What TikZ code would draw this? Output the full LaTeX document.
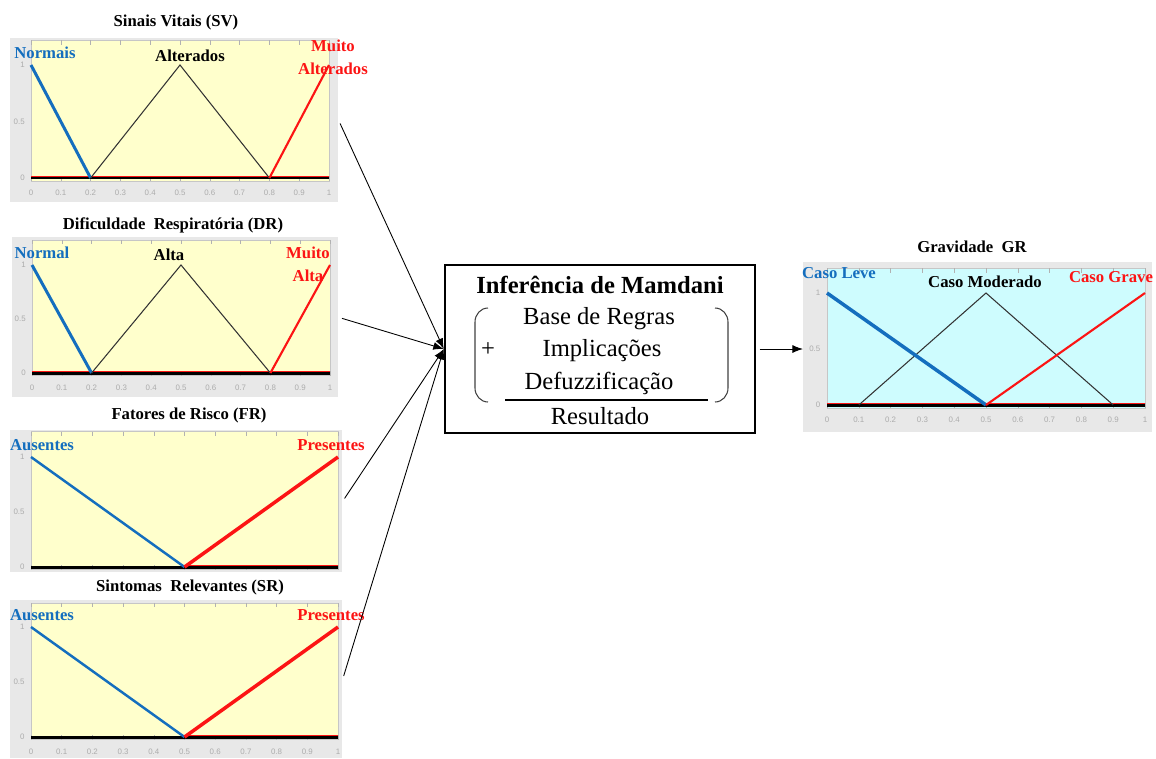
\documentclass[tikz,border=0pt]{standalone}
\usepackage{fontspec}
\setmainfont{Liberation Serif}
\newfontfamily\tickfont{Liberation Sans}
\usetikzlibrary{arrows.meta}
\usetikzlibrary{positioning}

\definecolor{mfblue}{RGB}{20,110,190}
\definecolor{mfred}{RGB}{252,20,20}
\definecolor{mfyellow}{RGB}{255,255,204}
\definecolor{mfcyan}{RGB}{206,252,254}
\definecolor{mfgrey}{RGB}{232,232,232}

\tikzset{
  frame/.style={fill=mfgrey, inner sep=0pt, anchor=north west},
  plotat/.style n args={4}{shift={(#1,#2)}, x={(#3*0.02cm,0)}, y={(0,#4*0.02cm)}},
  paneltitle/.style={font=\bfseries\fontsize{9.5}{11}\selectfont, inner sep=0pt},
  mflabel/.style={font=\bfseries\fontsize{9.5}{13}\selectfont, inner sep=0pt, align=center},
  ticklabel/.style={font=\tickfont\fontsize{4.5}{5}\selectfont, text=gray!65, inner sep=0pt},
  mamdani/.style={draw, line width=1.4pt, inner sep=0pt},
  boxtitle/.style={font=\bfseries\fontsize{14}{16}\selectfont, inner sep=0pt},
  boxtext/.style={font=\fontsize{14}{16}\selectfont, inner sep=0pt},
  link/.style={-{Latex[length=6pt,width=4.5pt]}, line width=0.5pt, shorten <=2pt},
  basered/.style={mfred, line width=0.6pt},
  baseblack/.style={black, line width=1.7pt},
  midtri/.style={black!80, line width=0.6pt}
}

% axes of one membership plot, in unit coordinates
% #1 background, #2 top of the plot area, #3 = 1 for x tick labels
\newcommand{\mfaxes}[3]{%
  \fill[#1] (0,-0.025) rectangle (1,#2);
  \draw[gray!45, line width=0.3pt] (0,-0.025) rectangle (1,#2);
  \foreach \t in {0,0.1,0.2,0.3,0.4,0.5,0.6,0.7,0.8,0.9,1} {
    \draw[gray!60, line width=0.3pt] (\t,-0.025) -- ++(0,0.04);
    \draw[gray!60, line width=0.3pt] (\t,#2) -- ++(0,-0.04);
    \ifnum#3=1 \node[ticklabel] at (\t,-0.135) {\t};\fi
  }
  \foreach \v in {0,0.5,1} \node[ticklabel, anchor=east] at (-0.02,\v) {\v};
}

\begin{document}
\begin{tikzpicture}[x=0.02cm, y=-0.02cm]
\useasboundingbox (0,0) rectangle (1156,758);

% grey frames of the five plots
\node[frame, minimum width=6.56cm, minimum height=3.28cm] (sv) at (10,38) {};
\node[frame, minimum width=6.52cm, minimum height=3.2cm] (dr) at (12,237) {};
\node[frame, minimum width=6.64cm, minimum height=2.84cm] (fr) at (10,430) {};
\node[frame, minimum width=6.64cm, minimum height=3.16cm] (sr) at (10,600) {};
\node[frame, minimum width=6.98cm, minimum height=3.4cm] (gr) at (803,262) {};

% Sinais Vitais
\begin{scope}[plotat={31}{178}{298}{113}]
  \mfaxes{mfyellow}{1.22}{1}
  \draw[basered] (0,0.012) -- (1,0.012);
  \draw[baseblack] (0,0) -- (1,0);
  \draw[mfblue, line width=1.7pt] (0,1) -- (0.2,0);
  \draw[midtri] (0.2,0) -- (0.5,1) -- (0.8,0);
  \draw[mfred, line width=1.2pt] (0.8,0) -- (1,1);
\end{scope}
\node[paneltitle] (svtitle) at (176,22) {Sinais Vitais (SV)};
\node[mflabel, text=mfblue] (svlow) at (45,53) {Normais};
\node[mflabel] (svmid) at (190,56) {Alterados};
\node[mflabel, text=mfred] (svhigh) at (333,57) {Muito\\Alterados};

% Dificuldade Respiratoria
\begin{scope}[plotat={32}{373}{298}{108}]
  \mfaxes{mfyellow}{1.23}{1}
  \draw[basered] (0,0.012) -- (1,0.012);
  \draw[baseblack] (0,0) -- (1,0);
  \draw[mfblue, line width=1.7pt] (0,1) -- (0.2,0);
  \draw[midtri] (0.2,0) -- (0.5,1) -- (0.8,0);
  \draw[mfred, line width=1.2pt] (0.8,0) -- (1,1);
\end{scope}
\node[paneltitle] (drtitle) at (173,225) {Dificuldade\enspace Respiratória (DR)};
\node[mflabel, text=mfblue] (drlow) at (42,253) {Normal};
\node[mflabel] (drmid) at (169,255) {Alta};
\node[mflabel, text=mfred] (drhigh) at (308,264) {Muito\\Alta};

% Fatores de Risco
\begin{scope}[plotat={31}{567}{307}{110}]
  \mfaxes{mfyellow}{1.23}{0}
  \draw[baseblack] (0,0) -- (1,0);
  \draw[basered] (0.5,0.012) -- (1,0.012);
  \draw[mfblue, line width=1.4pt] (0,1) -- (0.5,0);
  \draw[mfred, line width=2pt] (0.5,0) -- (1,1);
\end{scope}
\node[paneltitle] (frtitle) at (189,415) {Fatores de Risco (FR)};
\node[mflabel, text=mfblue] (frlow) at (42,445) {Ausentes};
\node[mflabel, text=mfred] (frhigh) at (331,445) {Presentes};

% Sintomas Relevantes
\begin{scope}[plotat={31}{737}{307}{110}]
  \mfaxes{mfyellow}{1.22}{1}
  \draw[baseblack] (0,0) -- (1,0);
  \draw[basered] (0.5,0.012) -- (1,0.012);
  \draw[mfblue, line width=1.4pt] (0,1) -- (0.5,0);
  \draw[mfred, line width=2pt] (0.5,0) -- (1,1);
\end{scope}
\node[paneltitle] (srtitle) at (190,587) {Sintomas\enspace Relevantes (SR)};
\node[mflabel, text=mfblue] (srlow) at (42,615) {Ausentes};
\node[mflabel, text=mfred] (srhigh) at (331,615) {Presentes};

% Gravidade
\begin{scope}[plotat={827}{405}{318}{112}]
  \mfaxes{mfcyan}{1.22}{1}
  \draw[basered] (0,0.012) -- (1,0.012);
  \draw[baseblack] (0,0) -- (1,0);
  \draw[midtri] (0.1,0) -- (0.5,1) -- (0.9,0);
  \draw[mfblue, line width=2pt] (0,1) -- (0.5,0);
  \draw[mfred, line width=1.2pt] (0.5,0) -- (1,1);
\end{scope}
\node[paneltitle] (grtitle) at (972,247) {Gravidade\enspace GR};
\node[mflabel, text=mfblue] (grlow) at (839,273) {Caso Leve};
\node[mflabel] (grmid) at (985,282) {Caso Moderado};
\node[mflabel, text=mfred] (grhigh) at (1111,277) {Caso Grave};

% inference box
\node[mamdani, minimum width=6.2cm, minimum height=3.36cm] (box) at (600,349) {};
\node[boxtitle] (boxhead) at (600,285) {Inferência de Mamdani};
\node[boxtext] (rules) at (599,319) {Base de Regras};
\node[boxtext] (impl) at (602,351) {Implicações};
\node[boxtext] (defuzz) at (599,383) {Defuzzificação};
\node[boxtext] (result) at (600,416) {Resultado};
\node[boxtext] (plus) at (488,350) {+};
\draw[line width=0.6pt] (505,400) -- (708,400);
\draw[black!75, line width=0.6pt] (488,308) to[out=180,in=90] (475,322) -- (475,388) to[out=-90,in=180] (488,402);
\draw[black!75, line width=0.6pt] (715,308) to[out=0,in=90] (728,322) -- (728,388) to[out=-90,in=0] (715,402);

% inputs into the box, output to GR
\draw[link] (sv.east) -- (box.west);
\draw[link] (dr.east) -- (box.west);
\draw[link] (fr.east) -- (box.west);
\draw[link] (sr.east) -- (box.west);
\draw[link] (box.east) -- (box.east -| gr.west);
\end{tikzpicture}
\end{document}
